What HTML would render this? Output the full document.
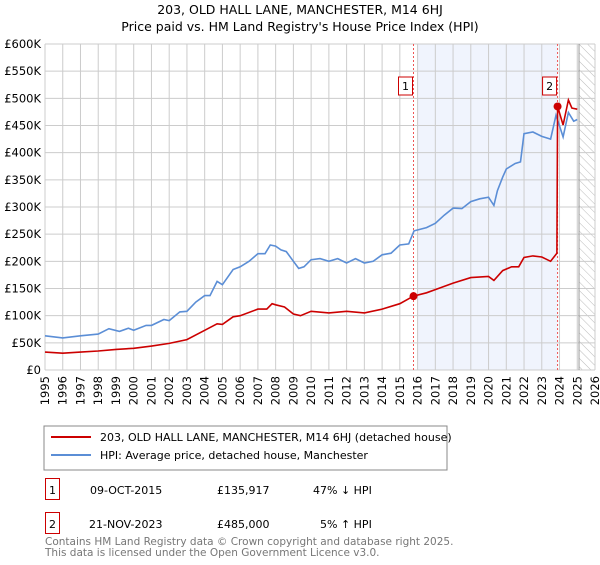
<!DOCTYPE html>
<html><head><meta charset="utf-8"><style>
body{margin:0;background:#fff;font-family:"Liberation Sans","DejaVu Sans",sans-serif;}
svg text{font-family:"DejaVu Sans","Liberation Sans",sans-serif;}
</style></head><body>
<svg id="c" width="600" height="560" viewBox="0 0 600 560">
<defs><pattern id="hatch" width="6" height="6" patternUnits="userSpaceOnUse" patternTransform="rotate(-45)"><line x1="0" y1="0" x2="0" y2="6" stroke="#bbb" stroke-width="1"/></pattern></defs>
<text x="300" y="14" text-anchor="middle" font-size="12.5">203, OLD HALL LANE, MANCHESTER, M14 6HJ</text>
<text x="300" y="31" text-anchor="middle" font-size="12.5">Price paid vs. HM Land Registry's House Price Index (HPI)</text>
<g id="grid"></g><g id="marks"></g>
<rect x="44" y="426" width="403" height="44" fill="#fff" stroke="#888"/>
<line x1="51" y1="437" x2="91" y2="437" stroke="#cc0000" stroke-width="2"/>
<text x="100" y="441" font-size="11">203, OLD HALL LANE, MANCHESTER, M14 6HJ (detached house)</text>
<line x1="51" y1="455" x2="91" y2="455" stroke="#5b8ed6" stroke-width="2"/>
<text x="100" y="459" font-size="11">HPI: Average price, detached house, Manchester</text>
<g>
<rect x="45.5" y="478.5" width="14" height="21" fill="#fff" stroke="#cc0000"/><text x="52.5" y="494" text-anchor="middle" font-size="11">1</text>
<text x="90" y="494" font-size="11">09-OCT-2015</text><text x="217" y="494" font-size="11">£135,917</text><text x="313" y="494" font-size="11">47% ↓ HPI</text></g>
<g>
<rect x="45.5" y="512.5" width="14" height="21" fill="#fff" stroke="#cc0000"/><text x="52.5" y="528" text-anchor="middle" font-size="11">2</text>
<text x="89" y="528" font-size="11">21-NOV-2023</text><text x="217" y="528" font-size="11">£485,000</text><text x="320" y="528" font-size="11">5% ↑ HPI</text></g>
<text x="45" y="545" font-size="10.5" fill="#777">Contains HM Land Registry data © Crown copyright and database right 2025.</text>
<text x="45" y="556" font-size="10.5" fill="#777">This data is licensed under the Open Government Licence v3.0.</text>
</svg>
<script>
const yTicks=[0,50,100,150,200,250,300,350,400,450,500,550,600];
const yTickLabels=["£0","£50K","£100K","£150K","£200K","£250K","£300K","£350K","£400K","£450K","£500K","£550K","£600K"];
const years=[1995,1996,1997,1998,1999,2000,2001,2002,2003,2004,2005,2006,2007,2008,2009,2010,2011,2012,2013,2014,2015,2016,2017,2018,2019,2020,2021,2022,2023,2024,2025,2026];
const hpiT=[1995,1996,1997,1998,1998.6,1999.2,1999.7,2000,2000.7,2001,2001.7,2002,2002.6,2003,2003.5,2004,2004.3,2004.7,2005,2005.6,2006,2006.5,2007,2007.4,2007.7,2008,2008.3,2008.6,2009,2009.3,2009.6,2010,2010.5,2011,2011.5,2012,2012.5,2013,2013.5,2014,2014.5,2015,2015.5,2015.8,2016.5,2017,2017.5,2018,2018.5,2019,2019.5,2020,2020.3,2020.5,2020.8,2021,2021.5,2021.8,2022,2022.5,2023,2023.5,2023.8,2024.2,2024.5,2024.8,2025];
const hpiV=[63,59,63,66,76,71,77,73,82,82,93,91,107,108,125,137,137,163,157,185,190,200,214,214,230,228,221,218,200,187,190,203,205,200,205,197,205,197,200,212,215,230,232,256,262,270,285,298,297,310,315,318,303,330,355,370,380,383,435,438,430,425,469,429,474,458,461];
const ppT=[1995,1996,1997,1998,1999,2000,2001,2002,2003,2004,2004.7,2005,2005.6,2006,2007,2007.5,2007.8,2008,2008.5,2009,2009.4,2010,2011,2012,2013,2014,2015,2015.77,2016.5,2017,2018,2019,2020,2020.3,2020.8,2021.3,2021.7,2022,2022.5,2023,2023.5,2023.85,2023.89,2024.2,2024.5,2024.7,2025];
const ppV=[33,31,33,35,38,40,44,49,56,73,85,84,98,100,112,112,122,120,116,103,100,108,105,108,105,112,122,136,142,148,160,170,172,165,183,190,190,207,210,208,200,215,485,451,497,482,480];
const saleT=[2015.77,2023.89];
const saleV=[135.917,485];
const saleLabels=["1","2"];
const X0=45,X1=595,Y0=370,Y1=44;
const sx=t=>X0+(t-1995)/(2026-1995)*(X1-X0);
const sy=v=>Y0-v/600*(Y0-Y1);
const NS="http://www.w3.org/2000/svg";
function mk(tag,attrs,parent){const e=document.createElementNS(NS,tag);for(const k in attrs)e.setAttribute(k,attrs[k]);parent.appendChild(e);return e;}
const g=document.getElementById('grid'),m=document.getElementById('marks');
// shaded region and hatch
let r=mk('rect',{x:sx(2016),y:Y1,width:sx(saleT[1])-sx(2016),height:Y0-Y1,fill:'#f0f4fd'},g);


r=mk('rect',{x:sx(2025.1),y:Y1,width:X1-sx(2025.1),height:Y0-Y1,fill:'url(#hatch)'},g);


yTicks.forEach((v,i)=>{
 mk('line',{x1:X0,x2:X1,y1:sy(v),y2:sy(v),stroke:'#ccc'},g);
 const t=mk('text',{x:41,y:sy(v)+4,'text-anchor':'end','font-size':'11.5'},g);t.textContent=yTickLabels[i];
 
 
});
years.forEach(y=>{
 mk('line',{x1:sx(y),x2:sx(y),y1:Y1,y2:Y0,stroke:'#ccc'},g);
 const t=mk('text',{x:0,y:0,'text-anchor':'end','font-size':'11.5',transform:`translate(${sx(y)+4},${Y0+6}) rotate(-90)`},g);t.textContent=y;
 
 
});
mk('line',{x1:sx(2025.1),x2:sx(2025.1),y1:Y1,y2:Y0,stroke:'#999'},g);
saleT.forEach((t,i)=>{
 const l=mk('line',{x1:sx(t),x2:sx(t),y1:Y1,y2:Y0,stroke:'#e55','stroke-dasharray':'2,2'},m);
 
 
});
const pts=(T,V)=>T.map((t,i)=>sx(t).toFixed(1)+','+sy(V[i]).toFixed(1)).join(' ');
let p=mk('polyline',{points:pts(hpiT,hpiV),fill:'none',stroke:'#5b8ed6','stroke-width':1.6},m);


p=mk('polyline',{points:pts(ppT,ppV),fill:'none',stroke:'#cc0000','stroke-width':1.6},m);


saleT.forEach((t,i)=>{
 const c=mk('circle',{cx:sx(t),cy:sy(saleV[i]),r:4,fill:'#cc0000'},m);
 
 
 const bx=sx(t)-11;
 const b=mk('g',{},m);
 
 
 mk('rect',{x:bx-4,y:77,width:14,height:18,fill:'#fff',stroke:'#cc0000'},b);
 const tx=mk('text',{x:bx+3,y:90,'text-anchor':'middle','font-size':'11'},b);tx.textContent=saleLabels[i];
});
</script>
</body></html>
